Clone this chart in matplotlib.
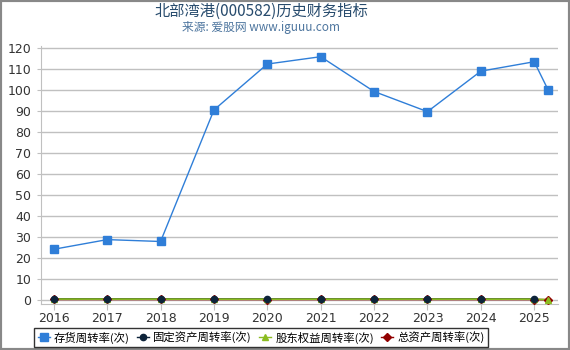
import matplotlib
matplotlib.use("Agg")
import matplotlib.pyplot as plt
from matplotlib.patches import Rectangle

plt.rcParams["font.family"] = ["DejaVu Sans", "Noto Sans CJK SC"]

# x positions: annual reports, last point is the latest quarter
years = [2016, 2017, 2018, 2019, 2020, 2021, 2022, 2023, 2024, 2025, 2025.26]
year_ticks = list(range(2016, 2026))

inventory_turnover = [24.1, 28.7, 27.8, 90.5, 112.4, 115.9, 99.3, 89.7, 109.0, 113.5, 100.1]
fixed_asset_turnover = [0.45, 0.42, 0.40, 0.38, 0.36, 0.37, 0.40, 0.39, 0.38, 0.37, None]
equity_turnover = [0.35, 0.33, 0.32, 0.30, 0.29, 0.30, 0.33, 0.32, 0.31, 0.30, 0.07]
total_asset_turnover = [0.18, 0.17, 0.16, 0.15, 0.14, 0.15, 0.16, 0.15, 0.15, 0.14, 0.03]

labels = ["存货周转率(次)", "固定资产周转率(次)", "股东权益周转率(次)", "总资产周转率(次)"]
colors = ["#2f7ed8", "#0d233a", "#8bbc21", "#910000"]
markers = ["s", "o", "^", "D"]
sizes = [6, 4.5, 5, 4.5]
line_z = [8, 4, 5, 3]
marker_z = [9, 7, 6, 5.5]

fig = plt.figure(figsize=(5.7, 3.5), dpi=100)
ax = fig.add_axes([41 / 570, 1 - 304 / 350, (557.7 - 41) / 570, (304 - 46) / 350])

series = [inventory_turnover, fixed_asset_turnover, equity_turnover, total_asset_turnover]
handles = []
for i, vals in enumerate(series):
    xs = [x for x, v in zip(years, vals) if v is not None]
    vs = [v for v in vals if v is not None]
    ax.plot(xs, vs, color=colors[i], lw=1.2 if i else 1, zorder=line_z[i])
    ax.plot(xs, vs, ls="none", marker=markers[i], ms=sizes[i], color=colors[i],
            markeredgecolor=colors[i], zorder=marker_z[i])
    h, = ax.plot([], [], color=colors[i], lw=1, marker=markers[i], ms=sizes[i],
                 markeredgecolor=colors[i], label=labels[i])
    handles.append(h)

ax.set_xlim(2015.76, 2025.44)
ax.set_ylim(-2, 121)
ax.set_yticks(range(0, 121, 10))
ax.set_xticks(year_ticks)
ax.grid(axis="y", color="#c0c0c0", lw=1)
ax.set_axisbelow(True)
for s in ["top", "right"]:
    ax.spines[s].set_visible(False)
ax.spines["left"].set_color("#c0c0c0")
ax.spines["bottom"].set_color("#c0c0c0")
ax.tick_params(axis="both", colors="#c0c0c0", labelcolor="#333333", labelsize=9)
ax.tick_params(axis="x", length=4, pad=1.5)
ax.tick_params(axis="y", length=3, pad=4)

fig.text(261 / 570, 1 - 11 / 350, "北部湾港(000582)历史财务指标", ha="center", va="center",
         fontsize=11, color="#274b6d", family=["Noto Sans CJK SC", "DejaVu Sans"])
fig.text(261 / 570, 1 - 28 / 350, "来源: 爱股网 www.iguuu.com", ha="center", va="center",
         fontsize=8.5, color="#4d759e", family=["Noto Sans CJK SC", "DejaVu Sans"])

leg = fig.legend(handles=handles, loc="center", bbox_to_anchor=(261 / 570, 1 - 337.5 / 350),
                 ncol=4, frameon=True, handlelength=1.1, handletextpad=0.35,
                 columnspacing=0.6, borderpad=0.3, borderaxespad=0, fancybox=False,
                 prop={"family": ["Noto Sans CJK SC", "DejaVu Sans"], "size": 8.2})
leg.get_frame().set_edgecolor("black")
leg.get_frame().set_linewidth(1)

fig.patches.append(Rectangle((0, 0), 1, 1, transform=fig.transFigure, fill=False,
                             edgecolor="#888888", lw=3))

fig.savefig("out.png", dpi=100)
